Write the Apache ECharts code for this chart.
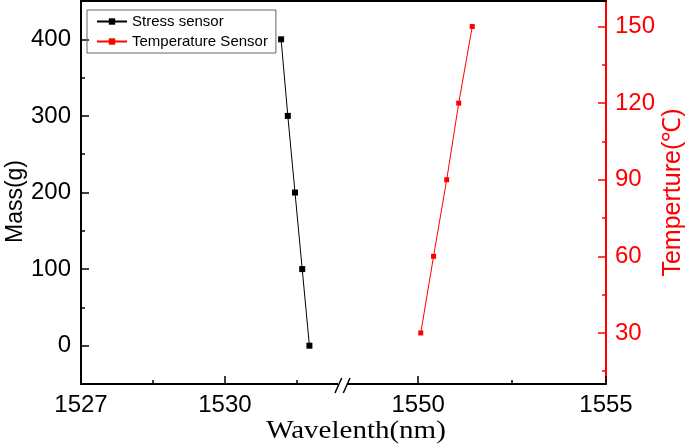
<!DOCTYPE html>
<html><head><meta charset="utf-8">
<script src="https://cdn.jsdelivr.net/npm/echarts@6/dist/echarts.min.js"></script>
<style>html,body{margin:0;padding:0;background:#fff}#c{width:685px;height:446px}</style>
</head><body><div id="c"></div>
<script>
// Data
const stressWavelength = [1531.17, 1531.31, 1531.46, 1531.61, 1531.76];
const stressMass = [400, 300, 200, 100, 0];
const tempWavelength = [1550.07, 1550.41, 1550.76, 1551.08, 1551.44];
const tempValues = [30, 60, 90, 120, 150];
const xTicksLeft = [1527, 1530];
const xMinorLeft = [1528.5, 1531.5];
const xTicksRight = [1550, 1555];
const xMinorRight = [1552.5];
const massTicks = [0, 100, 200, 300, 400];
const massMinor = [50, 150, 250, 350];
const tempTicks = [30, 60, 90, 120, 150];
const tempMinor = [15, 45, 75, 105, 135];

const chart = echarts.init(document.getElementById('c'));
const F = 'Liberation Sans, Arial, sans-serif';
const black = '#000';
const red = '#ff0000';
const plain = v => String(v);

function xAx(grid, min, max, major, minor, kind) {
  const base = {
    type: 'value', gridIndex: grid, min: min, max: max, position: kind === 'top' ? 'top' : 'bottom',
    splitLine: {show: false}, axisLine: {onZero: false, show: kind !== 'minor', lineStyle: {color: black, width: 2}},
    axisLabel: {show: false}, axisTick: {show: false}
  };
  if (kind === 'major') {
    base.axisLabel = {show: true, customValues: major, formatter: plain, color: black, fontFamily: F, fontSize: 24, margin: 9};
    base.axisTick = {show: true, customValues: major, inside: true, length: 8, lineStyle: {color: black, width: 1.5}};
  } else if (kind === 'minor') {
    base.axisTick = {show: true, customValues: minor, inside: true, length: 4, lineStyle: {color: black, width: 1.5}};
  }
  return base;
}

const option = {
  animation: false,
  backgroundColor: '#fff',
  grid: [
    {left: 81, top: 1, width: 262, bottom: 62, outerBoundsMode: 'none', containLabel: false},
    {left: 343, top: 1, right: 79, bottom: 62, outerBoundsMode: 'none', containLabel: false}
  ],
  xAxis: [
    xAx(0, 1527, 1532.46, xTicksLeft, xMinorLeft, 'major'),
    xAx(0, 1527, 1532.46, xTicksLeft, xMinorLeft, 'minor'),
    xAx(0, 1527, 1532.46, xTicksLeft, xMinorLeft, 'top'),
    xAx(1, 1548, 1555, xTicksRight, xMinorRight, 'major'),
    xAx(1, 1548, 1555, xTicksRight, xMinorRight, 'minor'),
    xAx(1, 1548, 1555, xTicksRight, xMinorRight, 'top')
  ],
  yAxis: [
    {type: 'value', gridIndex: 0, position: 'left', min: -50, max: 450, splitLine: {show: false},
     name: 'Mass(g)', nameLocation: 'middle', nameGap: 52, nameRotate: 90,
     nameTextStyle: {color: black, fontFamily: F, fontSize: 23, padding: [0, 18, 0, 0]},
     axisLine: {show: true, onZero: false, lineStyle: {color: black, width: 2}},
     axisLabel: {customValues: massTicks, formatter: plain, color: black, fontFamily: F, fontSize: 24, margin: 10},
     axisTick: {customValues: massTicks, inside: true, length: 8, lineStyle: {color: black, width: 1.5}}},
    {type: 'value', gridIndex: 0, position: 'left', min: -50, max: 450, splitLine: {show: false},
     axisLine: {show: false, onZero: false}, axisLabel: {show: false},
     axisTick: {customValues: massMinor, inside: true, length: 4, lineStyle: {color: black, width: 1.5}}},
    {type: 'value', gridIndex: 1, position: 'right', min: 10, max: 160, splitLine: {show: false},
     name: 'Temperture(℃)', nameLocation: 'middle', nameGap: 55, nameRotate: 90,
     nameTextStyle: {color: red, fontFamily: F, fontSize: 25},
     axisLine: {show: true, onZero: false, lineStyle: {color: red, width: 2}},
     axisLabel: {customValues: tempTicks, formatter: plain, color: red, fontFamily: F, fontSize: 24, margin: 9},
     axisTick: {customValues: tempTicks, inside: true, length: 8, lineStyle: {color: red, width: 1.5}}},
    {type: 'value', gridIndex: 1, position: 'right', min: 10, max: 160, splitLine: {show: false},
     axisLine: {show: false, onZero: false}, axisLabel: {show: false},
     axisTick: {customValues: tempMinor, inside: true, length: 4, lineStyle: {color: red, width: 1.5}}}
  ],
  legend: {
    left: 87, top: 10, orient: 'vertical', padding: [4, 8, 4, 9], itemGap: 5,
    borderColor: '#666', borderWidth: 1, itemWidth: 30, itemHeight: 8,
    textStyle: {color: black, fontFamily: F, fontSize: 15},
    data: ['Stress sensor', 'Temperature Sensor']
  },
  series: [
    {name: 'Stress sensor', type: 'line', xAxisIndex: 0, yAxisIndex: 0,
     data: stressWavelength.map((w, i) => [w, stressMass[i]]),
     symbol: 'rect', symbolSize: 6, itemStyle: {color: black}, lineStyle: {color: black, width: 1}},
    {name: 'Temperature Sensor', type: 'line', xAxisIndex: 3, yAxisIndex: 2,
     data: tempWavelength.map((w, i) => [w, tempValues[i]]),
     symbol: 'rect', symbolSize: 5, itemStyle: {color: red}, lineStyle: {color: red, width: 1}}
  ],
  graphic: [
    {type: 'rect', shape: {x: 338, y: 381, width: 9, height: 6}, style: {fill: '#fff'}, z: 100},
    {type: 'line', shape: {x1: 335, y1: 393, x2: 341.7, y2: 378}, style: {stroke: black, lineWidth: 1.5}, z: 101},
    {type: 'line', shape: {x1: 343.3, y1: 393, x2: 350, y2: 378}, style: {stroke: black, lineWidth: 1.5}, z: 101},
    {type: 'text', x: 356, y: 431, scaleX: 1.16, originX: 0, originY: 0,
     style: {x: 0, y: 0, text: 'Wavelenth(nm)', fill: black, font: '25px "Liberation Serif", "Times New Roman", serif', align: 'center', verticalAlign: 'middle'}, z: 100}
  ]
};
chart.setOption(option);
</script></body></html>
